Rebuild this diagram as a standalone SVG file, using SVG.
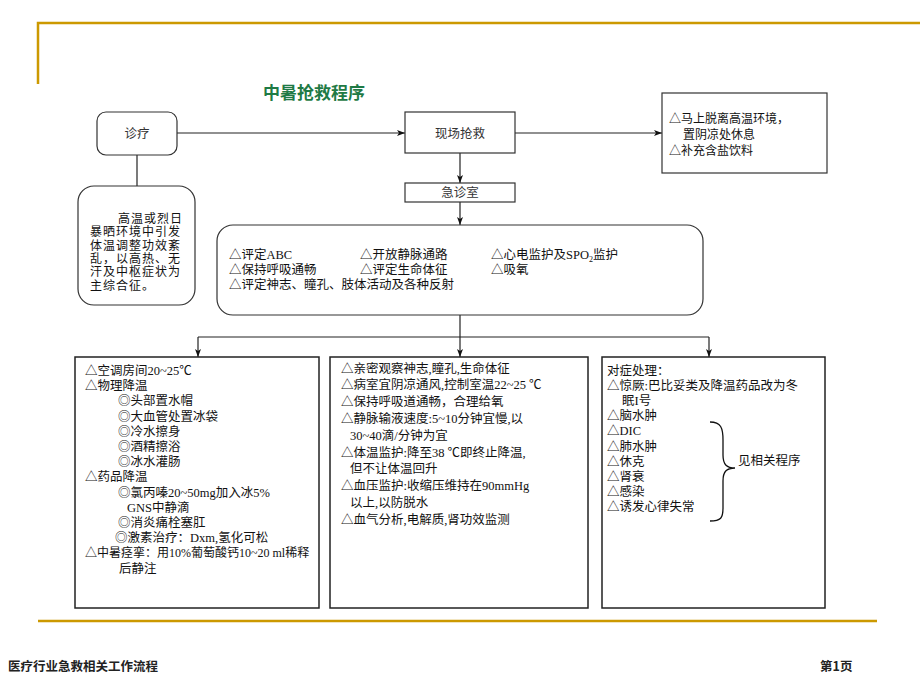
<svg xmlns="http://www.w3.org/2000/svg" width="920" height="690" viewBox="0 0 920 690">
<defs>
<marker id="arr" viewBox="0 0 8 6" refX="8" refY="3" markerWidth="8" markerHeight="6" markerUnits="userSpaceOnUse" orient="auto">
<path d="M0,0 L8,3 L0,6 L2,3 z" fill="#111"/>
</marker>
<style>
.box{fill:#fff;stroke:#333;stroke-width:1.2}
.bbox{fill:#fff;stroke:#222;stroke-width:1.5}
.con{fill:none;stroke:#222;stroke-width:1.2}
.t{font-family:"Liberation Serif","Noto Sans CJK SC",serif;font-size:12.5px;fill:#111}
.tl{font-family:"Liberation Serif","Noto Sans CJK SC",serif;font-size:12px;letter-spacing:1px;fill:#111}
.ts{font-family:"Liberation Sans","Noto Sans CJK SC",sans-serif;font-size:12.5px;fill:#333;text-anchor:middle}
.gold{stroke:#cc9900;stroke-width:2.5;fill:none}
</style>
</defs>
<rect width="920" height="690" fill="#fff"/>
<g id="decor">
<path class="gold" d="M38,84 L38,23 L920,23"/>
<line class="gold" x1="38" y1="621" x2="877" y2="621"/>
</g>
<text id="title" x="263" y="99" style="font-family:'Noto Sans CJK SC',sans-serif;font-size:17px;font-weight:bold;fill:#1f7a45">中暑抢救程序</text>
<g id="connectors">
<line class="con" x1="177" y1="133" x2="405" y2="133" marker-end="url(#arr)"/>
<line class="con" x1="515" y1="133" x2="662" y2="133" marker-end="url(#arr)"/>
<line class="con" x1="137" y1="155" x2="137" y2="186"/>
<line class="con" x1="460" y1="153" x2="460" y2="183" marker-end="url(#arr)"/>
<line class="con" x1="460" y1="202" x2="460" y2="225" marker-end="url(#arr)"/>
<line class="con" x1="460" y1="315" x2="460" y2="337"/>
<line class="con" x1="198" y1="337" x2="709" y2="337"/>
<line class="con" x1="198" y1="337" x2="198" y2="357" marker-end="url(#arr)"/>
<line class="con" x1="460" y1="337" x2="460" y2="357" marker-end="url(#arr)"/>
<line class="con" x1="709" y1="337" x2="709" y2="357" marker-end="url(#arr)"/>
</g>
<g id="zhenliao">
<rect class="box" x="97" y="112" width="80" height="43" rx="9"/>
<text class="ts" x="137" y="138">诊疗</text>
</g>
<g id="xianchang">
<rect class="box" x="405" y="112" width="110" height="41"/>
<text class="ts" x="460" y="138">现场抢救</text>
</g>
<g id="jizhenshi">
<rect class="box" x="405" y="183" width="110" height="19"/>
<text class="ts" x="460" y="197">急诊室</text>
</g>
<g id="tuoli">
<rect class="box" x="662" y="93" width="165" height="80"/>
<text class="t" style="font-size:12px" x="669" y="123">△马上脱离高温环境，</text>
<text class="t" style="font-size:12px" x="683" y="139">置阴凉处休息</text>
<text class="t" style="font-size:12px" x="669" y="155">△补充含盐饮料</text>
</g>
<g id="dingyi">
<rect class="box" x="78" y="186" width="117" height="119" rx="16"/>
<text class="tl" x="118" y="223">高温或烈日</text>
<text class="tl" x="90" y="236.3">暴晒环境中引发</text>
<text class="tl" x="90" y="249.6">体温调整功效紊</text>
<text class="tl" x="90" y="262.9">乱，以高热、无</text>
<text class="tl" x="90" y="276.2">汗及中枢症状为</text>
<text class="tl" x="90" y="289.5">主综合征。</text>
</g>
<g id="pingding">
<rect class="box" x="217" y="225" width="486" height="90" rx="16"/>
<text class="t" x="229" y="259">△评定ABC</text>
<text class="t" x="360" y="259">△开放静脉通路</text>
<text class="t" x="491" y="259">△心电监护及SPO<tspan font-size="8" dy="3">2</tspan><tspan dy="-3">监护</tspan></text>
<text class="t" x="229" y="274">△保持呼吸通畅</text>
<text class="t" x="360" y="274">△评定生命体征</text>
<text class="t" x="491" y="274">△吸氧</text>
<text class="t" x="229" y="289">△评定神志、瞳孔、肢体活动及各种反射</text>
</g>
<g id="jiangwen">
<rect class="bbox" x="75" y="357" width="244" height="251"/>
<text class="t" x="85" y="375">△空调房间20~25℃</text>
<text class="t" x="85" y="390">△物理降温</text>
<text class="t" x="118" y="405">◎头部置水帽</text>
<text class="t" x="118" y="421">◎大血管处置冰袋</text>
<text class="t" x="118" y="436">◎冷水擦身</text>
<text class="t" x="118" y="451">◎酒精擦浴</text>
<text class="t" x="118" y="466">◎冰水灌肠</text>
<text class="t" x="85" y="481">△药品降温</text>
<text class="t" x="118" y="497">◎氯丙嗪20~50mg加入冰5%</text>
<text class="t" x="127" y="512">GNS中静滴</text>
<text class="t" x="118" y="527">◎消炎痛栓塞肛</text>
<text class="t" x="115" y="542">◎激素治疗：Dxm,氢化可松</text>
<text class="t" style="font-size:12px" x="85" y="557">△中暑痉挛：用10%葡萄酸钙10~20 ml稀释</text>
<text class="t" x="119" y="573">后静注</text>
</g>
<g id="jianhu">
<rect class="bbox" x="330" y="357" width="258" height="251"/>
<text class="t" x="341" y="372.5">△亲密观察神志,瞳孔,生命体征</text>
<text class="t" x="341" y="389">△病室宜阴凉通风,控制室温22~25 ℃</text>
<text class="t" x="341" y="406">△保持呼吸道通畅，合理给氧</text>
<text class="t" x="341" y="423">△静脉输液速度:5~10分钟宜慢,以</text>
<text class="t" x="350" y="440">30~40滴/分钟为宜</text>
<text class="t" x="341" y="456.5">△体温监护:降至38 ℃即终止降温,</text>
<text class="t" x="350" y="473">但不让体温回升</text>
<text class="t" x="341" y="490">△血压监护:收缩压维持在90mmHg</text>
<text class="t" x="350" y="507">以上,以防脱水</text>
<text class="t" x="341" y="524">△血气分析,电解质,肾功效监测</text>
</g>
<g id="duizheng">
<rect class="bbox" x="602" y="357" width="223" height="251"/>
<text class="t" x="607" y="374.5">对症处理：</text>
<text class="t" x="607" y="389.5">△惊厥:巴比妥类及降温药品改为冬</text>
<text class="t" x="622" y="405">眠I号</text>
<text class="t" x="607" y="420">△脑水肿</text>
<text class="t" x="607" y="435">△DIC</text>
<text class="t" x="607" y="450.5">△肺水肿</text>
<text class="t" x="607" y="465.5">△休克</text>
<text class="t" x="607" y="481">△肾衰</text>
<text class="t" x="607" y="496">△感染</text>
<text class="t" x="607" y="511">△诱发心律失常</text>
<path d="M710,422 C721,422 723,428 723,440 L723,455 C723,465 727,468 735,468 C727,468 723,471 723,481 L723,508 C723,518 721,521 710,521" fill="none" stroke="#111" stroke-width="1.3"/>
<text class="t" x="738" y="465">见相关程序</text>
</g>
<g id="footer">
<text x="8" y="671" style="font-family:'Noto Sans CJK SC',sans-serif;font-size:12.5px;font-weight:bold;fill:#222">医疗行业急救相关工作流程</text>
<text x="820" y="671" style="font-family:'Noto Sans CJK SC',sans-serif;font-size:12.5px;font-weight:bold;fill:#222">第1页</text>
</g>
</svg>
